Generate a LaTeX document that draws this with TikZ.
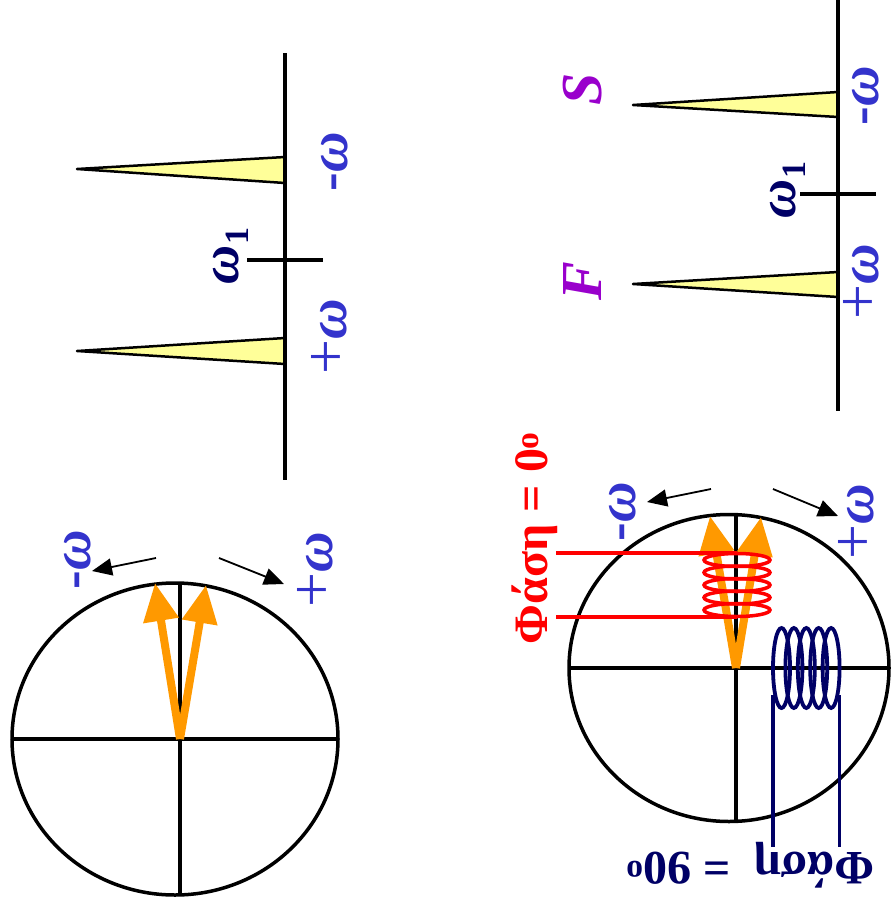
\documentclass[tikz,border=0pt]{standalone}
\usepackage{fontspec}
\setmainfont{Liberation Serif}
\usetikzlibrary{arrows.meta}
\definecolor{omblue}{HTML}{3333CC}
\definecolor{navyc}{HTML}{000066}
\definecolor{purpc}{HTML}{9900CC}
\definecolor{orngc}{HTML}{FF9900}
\definecolor{spkc}{HTML}{FFFF99}
\definecolor{redc}{HTML}{FF0000}
\newcommand{\om}{\textit{ω}}
\newcommand{\pl}{{\fontsize{62}{62}\selectfont\mdseries +}}
\newcommand{\omone}{\om\raisebox{-10pt}{\fontsize{34}{34}\selectfont 1}}
\tikzset{
  axisline/.style={line width=3.5pt, draw=black},
  spike/.style={draw=black, fill=spkc, line width=2.5pt, line join=round},
  rim/.style={line width=3.5pt, draw=black},
  vec/.style={draw=orngc, line width=8pt, -{Triangle[length=38pt,width=34pt]}},
  rotarrow/.style={line width=1.8pt, draw=black, -{Triangle[length=20pt,width=17pt]}},
  wlab/.style={text=omblue, font=\fontsize{56}{56}\selectfont\bfseries, rotate=90, inner sep=0pt, text height=27pt, text depth=0pt},
  w1lab/.style={text=navyc, font=\fontsize{54}{54}\selectfont\bfseries, rotate=90, inner sep=0pt},
  sflab/.style={text=purpc, font=\fontsize{58}{58}\selectfont\bfseries\itshape, rotate=90, inner sep=0pt},
  phlab/.style={font=\fontsize{48}{48}\selectfont\bfseries, inner sep=0pt},
  coilr/.style={draw=redc, line width=3.5pt},
  coiln/.style={draw=navyc, line width=3.8pt},
}
\begin{document}
\begin{tikzpicture}[x=1pt,y=-1pt]
\useasboundingbox (0,0) rectangle (891,910);
% ---------- left top spectrum ----------
\draw[spike] (285,157) -- (77,169) -- (285,183) -- cycle;
\draw[spike] (285,338) -- (77,351) -- (285,364) -- cycle;
\coordinate (la1) at (285,53); \coordinate (la2) at (285,480);
\coordinate (lt1) at (247,260); \coordinate (lt2) at (323,260);
\draw[axisline] (la1) -- (la2);
\draw[axisline] (lt1) -- (lt2);
\node[wlab] (lmw) at (334,162) {-\om};
\node[wlab] (lpw) at (333,337) {\pl\om};
\node[w1lab] (lw1) at (231,256) {\omone};
% ---------- right top spectrum ----------
\draw[spike] (838,92) -- (633,105) -- (838,117) -- cycle;
\draw[spike] (838,272) -- (633,284) -- (838,297) -- cycle;
\coordinate (ra1) at (838,0); \coordinate (ra2) at (838,411);
\coordinate (rt1) at (800,194); \coordinate (rt2) at (876,194);
\draw[axisline] (ra1) -- (ra2);
\draw[axisline] (rt1) -- (rt2);
\node[sflab] (slab) at (583,89) {S};
\node[sflab] (flab) at (583,281) {F};
\node[wlab] (rmw) at (865,96) {-\om};
\node[wlab] (rpw) at (865,282) {\pl\om};
\node[w1lab] (rw1) at (788,190) {\omone};
% ---------- left bottom circle ----------
\draw[rim] (175,739) ellipse [x radius=163pt, y radius=156pt];
\coordinate (lc) at (180,739);
\draw[rim] (12,739) -- (337,739);
\draw[rim] (180,583) -- (180,895);
\coordinate (lv1) at (155,583); \coordinate (lv2) at (206,585);
\draw[vec] (lc) -- (lv1);
\draw[vec] (lc) -- (lv2);
\coordinate (lr1s) at (156,558); \coordinate (lr1e) at (92,571);
\coordinate (lr2s) at (219,558); \coordinate (lr2e) at (284,584);
\draw[rotarrow] (lr1s) -- (lr1e);
\draw[rotarrow] (lr2s) -- (lr2e);
\node[wlab] (bmw) at (77,560) {-\om};
\node[wlab] (bpw) at (319,570) {\pl\om};
% ---------- right bottom circle ----------
\draw[rim] (729,668) ellipse [x radius=160pt, y radius=153.5pt];
\coordinate (rc) at (736,668);
\draw[rim] (568,668) -- (889,668);
\draw[rim] (736,515) -- (736,822);
\coordinate (rv1) at (710,516); \coordinate (rv2) at (761,517);
\draw[vec] (rc) -- (rv1);
\draw[vec] (rc) -- (rv2);
\coordinate (rr1s) at (711,489); \coordinate (rr1e) at (647,502);
\coordinate (rr2s) at (773,489); \coordinate (rr2e) at (838,516);
\draw[rotarrow] (rr1s) -- (rr1e);
\draw[rotarrow] (rr2s) -- (rr2e);
\node[wlab] (cmw) at (622,512) {-\om};
\node[wlab] (cpw) at (860,522) {\pl\om};
% red coil (phase 0)
\foreach \i in {0,...,4} \draw[coilr] (737,{560+12.5*\i}) ellipse [x radius=33pt, y radius=6.5pt];
\coordinate (rl1s) at (556,553); \coordinate (rl1e) at (737,553);
\coordinate (rl2s) at (556,617); \coordinate (rl2e) at (737,617);
\draw[coilr] (rl1s) -- (rl1e);
\draw[coilr] (rl2s) -- (rl2e);
\node[phlab, text=redc, rotate=90] (ph0) at (535,538) {Φάση = 0\textsuperscript{o}};
% navy coil (phase 90)
\foreach \i in {0,...,4} \draw[coiln] ({781.5+12.4*\i},668) ellipse [x radius=8.5pt, y radius=40pt];
\coordinate (nl1s) at (773,695); \coordinate (nl1e) at (773,847);
\coordinate (nl2s) at (839.5,695); \coordinate (nl2e) at (839.5,847);
\draw[coiln] (nl1s) -- (nl1e);
\draw[coiln] (nl2s) -- (nl2e);
\node[phlab, text=navyc, rotate=180] (ph90) at (750,865) {Φάση\ \ = 90\textsuperscript{o}};
\end{tikzpicture}
\end{document}
